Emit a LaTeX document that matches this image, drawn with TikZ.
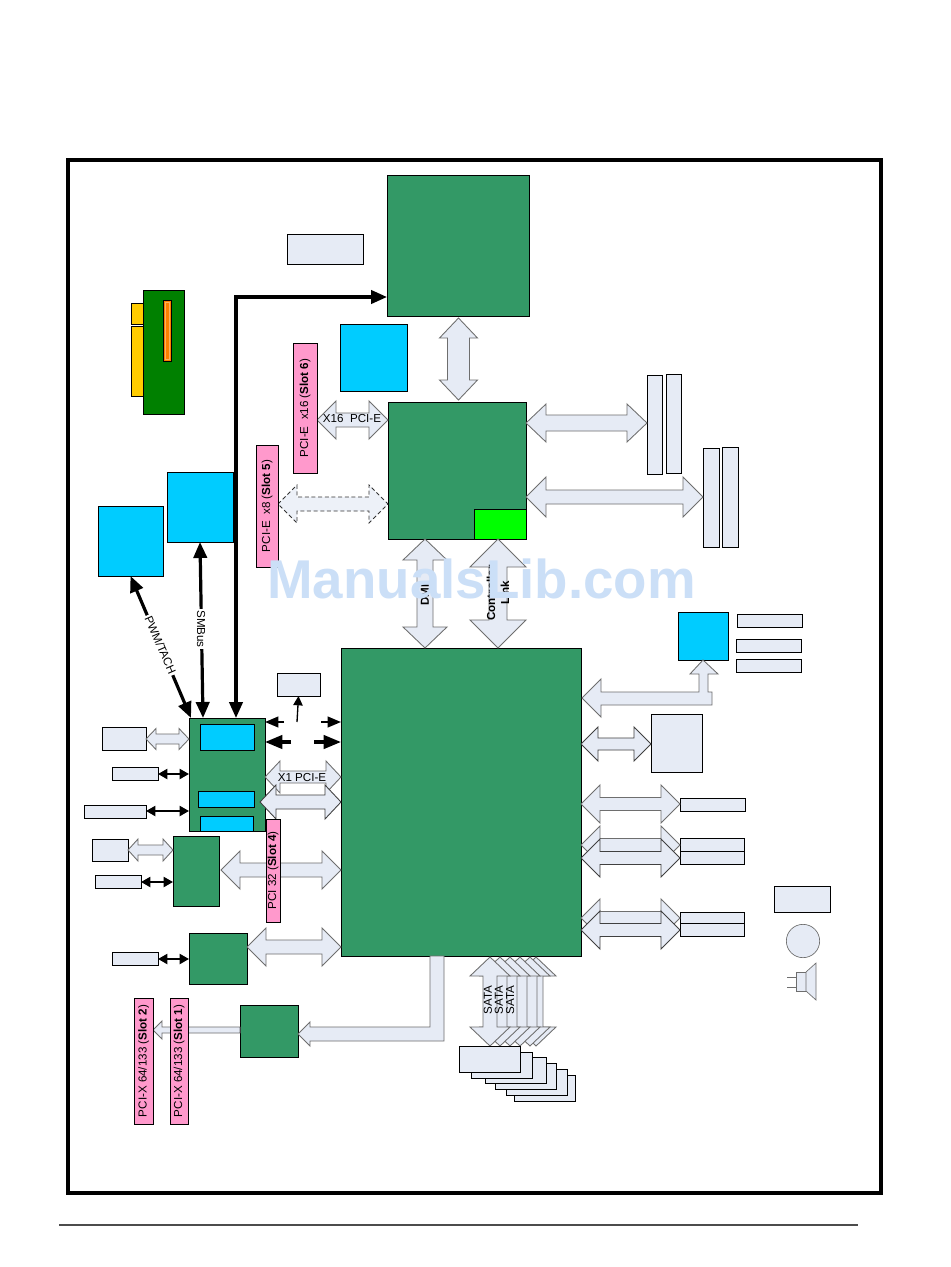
\documentclass[tikz,border=0pt]{standalone}
\usepackage{fontspec}
\setmainfont{Liberation Sans}
\usetikzlibrary{arrows.meta,calc}
\pgfdeclarelayer{arr}
\pgfdeclarelayer{over}
\pgfsetlayers{main,arr,over}
\definecolor{gr}{HTML}{339966}
\definecolor{dgr}{HTML}{008000}
\definecolor{cy}{HTML}{00CCFF}
\definecolor{lb}{HTML}{E6EBF5}
\definecolor{pk}{HTML}{FF99CC}
\definecolor{ye}{HTML}{FFCC00}
\definecolor{org}{HTML}{FF8000}
\definecolor{lorg}{HTML}{FFB060}
\definecolor{lm}{HTML}{00FF00}
\definecolor{wm}{HTML}{CBDFF7}
\definecolor{ag}{HTML}{6E6E6E}
\newcommand\tf{\fontsize{8.7}{10}\selectfont}
\tikzset{
 base/.style={draw=black,line width=.65pt,inner sep=0pt,outer sep=0pt},
 gbox/.style={base,fill=gr},
 cbox/.style={base,fill=cy},
 lbox/.style={base,fill=lb},
 pbox/.style={base,fill=pk,font=\tf},
 ba/.style={draw=ag,fill=lb,line width=.65pt,line join=miter},
 bad/.style={draw=black!75,fill=lb,line width=.65pt},
 bdash/.style={draw=black!80,fill=lb!70,line width=.55pt,densely dashed},
 thin2/.style={{Triangle[length=7pt,width=7.5pt]}-{Triangle[length=7pt,width=7.5pt]},line width=1.5pt,black},
 stubl/.style={-{Triangle[length=10pt,width=8pt]},line width=1.5pt,black},
 stubh/.style={-{Triangle[length=13pt,width=10pt]},line width=2.4pt,black},
 big/.style={{Triangle[length=12pt,width=10pt]}-{Triangle[length=12pt,width=10pt]},line width=2.4pt,black},
 lbl/.style={font=\tf,inner sep=0pt,outer sep=0pt},
 lblb/.style={font=\tf\bfseries,inner sep=0pt,outer sep=0pt},
}
\newcommand\bx[7]{\node[#2,minimum width={(#5-#3)*.75pt},minimum height={(#6-#4)*.75pt}] (#1) at ({(#3+#5)/2},{(#4+#6)/2}) {#7};}
\newcommand\bxr[7]{\node[#2,rotate=90,minimum width={(#6-#4)*.75pt},minimum height={(#5-#3)*.75pt}] (#1) at ({(#3+#5)/2},{(#4+#6)/2}) {#7};}
% horizontal double block arrow: style, left end, right end, yc, head half, shaft half, head length
\newcommand\HA[7]{\path[#1] let \p1=(#2),\p2=(#3) in
 (\x1,#4) -- ({\x1+#7*.75pt},{#4-#5}) -- ({\x1+#7*.75pt},{#4-#6}) -- ({\x2-#7*.75pt},{#4-#6}) -- ({\x2-#7*.75pt},{#4-#5}) -- (\x2,#4)
 -- ({\x2-#7*.75pt},{#4+#5}) -- ({\x2-#7*.75pt},{#4+#6}) -- ({\x1+#7*.75pt},{#4+#6}) -- ({\x1+#7*.75pt},{#4+#5}) -- cycle;}
% vertical double block arrow: style, top end, bottom end, xc, head half, shaft half, head length
\newcommand\VA[7]{\path[#1] let \p1=(#2),\p2=(#3) in
 (#4,\y1) -- ({#4-#5},{\y1-#7*.75pt}) -- ({#4-#6},{\y1-#7*.75pt}) -- ({#4-#6},{\y2+#7*.75pt}) -- ({#4-#5},{\y2+#7*.75pt}) -- (#4,\y2)
 -- ({#4+#5},{\y2+#7*.75pt}) -- ({#4+#6},{\y2+#7*.75pt}) -- ({#4+#6},{\y1-#7*.75pt}) -- ({#4+#5},{\y1-#7*.75pt}) -- cycle;}
\begin{document}
\begin{tikzpicture}[x=.75pt,y=-.75pt]
\useasboundingbox (0,0) rectangle (950,1267);
\fill[white] (0,0) rectangle (950,1267);
% frame and foot rule
\bx{frame}{base,line width=2.6pt}{68}{160}{881}{1193}{}
\coordinate (rl) at (59,1225);
\coordinate (rr) at (858,1225);
\draw[line width=1pt,black!70] (rl) -- (rr);
% main blocks
\bx{cpu}{gbox}{387}{175}{529}{316}{}
\bx{note}{lbox}{287}{234}{363}{264}{}
\bx{vrm}{cbox}{340}{324}{407}{391}{}
\bx{mch}{gbox}{388}{402}{526}{539}{}
\bx{lime}{base,fill=lm}{474}{509}{526}{539}{}
\bx{ich}{gbox}{341}{648}{581}{956}{}
\bx{m1}{lbox}{647}{375}{662}{474}{}
\bx{m2}{lbox}{666}{374}{681}{473}{}
\bx{m3}{lbox}{703}{448}{719}{547}{}
\bx{m4}{lbox}{722}{447}{738}{547}{}
% riser card
\bx{ya}{base,fill=ye,line width=.4pt}{131}{303}{143}{324}{}
\bx{yb}{base,fill=ye,line width=.4pt}{131}{326}{143}{396}{}
\bx{card}{base,fill=dgr}{143}{290}{184}{414}{}
\bx{orng}{base,fill=org,line width=.5pt}{163}{300}{171}{361}{}
\bx{orni}{draw=lorg,fill=org,line width=.5pt,inner sep=0pt,outer sep=0pt}{165}{302}{169}{359}{}
% fans
\bx{fana}{cbox}{167}{472}{233}{542}{}
\bx{fanb}{cbox}{98}{506}{163}{576}{}
% south-west group
\bx{sio}{gbox}{189}{718}{265}{831}{}
\bx{sioa}{cbox}{200}{724}{254}{750}{}
\bx{siob}{cbox}{198}{791}{254}{807}{}
\bx{sioc}{cbox}{200}{816}{253}{831}{}
\bx{small}{lbox}{277}{673}{320}{696}{}
\bx{la}{lbox}{102}{727}{146}{750}{}
\bx{lc}{lbox}{112}{767}{158}{780}{}
\bx{ld}{lbox}{84}{805}{146}{818}{}
\bx{le}{lbox}{92}{839}{128}{861}{}
\bx{lf}{lbox}{95}{875}{141}{888}{}
\bx{gna}{gbox}{173}{836}{219}{906}{}
\bx{gnb}{gbox}{189}{933}{247}{984}{}
\bx{lg}{lbox}{112}{952}{158}{965}{}
\bx{gnc}{gbox}{240}{1005}{298}{1057}{}
% right group
\bx{cyr}{cbox}{678}{612}{728}{660}{}
\bx{ra}{lbox}{737}{614}{802}{627}{}
\bx{rb}{lbox}{736}{639}{801}{652}{}
\bx{rc}{lbox}{736}{659}{801}{672}{}
\bx{rd}{lbox}{651}{714}{702}{772}{}
\bx{re}{lbox}{680}{798}{745}{811}{}
\bx{rf}{lbox}{680}{838}{744}{851}{}
\bx{rg}{lbox}{680}{851}{744}{864}{}
\bx{rh}{lbox}{680}{912}{744}{923}{}
\bx{ri}{lbox}{680}{923}{744}{936}{}
\bx{rj}{lbox}{774}{886}{830}{912}{}
\node[draw=ag,fill=lb,line width=.5pt,circle,minimum size=25pt,inner sep=0pt] (circ) at (803,941) {};
% speaker
\bx{spk}{draw=ag,fill=lb,line width=.5pt,inner sep=0pt,outer sep=0pt}{796}{972}{806}{991}{}
\coordinate (ca) at (816,963);
\coordinate (cb) at (816,1000);
\coordinate (pa) at (787,977);
\coordinate (pb) at (787,987);
\draw[draw=ag,fill=lb,line width=.5pt] (spk.north east) -- (ca) -- (cb) -- (spk.south east) -- cycle;
\draw[draw=ag,line width=.5pt] (pa) -- (pa -| spk.west) (pb) -- (pb -| spk.west);

\begin{pgfonlayer}{over}
\bxr{s6}{pbox}{293}{343}{317}{473}{PCI-E\ \ x16 (\textbf{Slot 6})}
\bxr{s5}{pbox}{256}{445}{278}{567}{PCI-E\ \ x8 (\textbf{Slot 5})}
\bxr{s4}{pbox}{266}{819}{280}{922}{PCI 32 (\textbf{Slot 4})}
\bxr{s2}{pbox}{134}{998}{153}{1124}{PCI-X 64/133 (\textbf{Slot 2})}
\bxr{s1}{pbox}{170}{998}{188}{1124}{PCI-X 64/133 (\textbf{Slot 1})}
% SATA drive stack
\bx{d6}{lbox}{514}{1075}{575}{1101}{}
\bx{d5}{lbox}{506}{1069}{567}{1095}{}
\bx{d4}{lbox}{495}{1063}{556}{1089}{}
\bx{d3}{lbox}{485}{1057}{546}{1083}{}
\bx{d2}{lbox}{471}{1052}{532}{1078}{}
\bx{d1}{lbox}{459}{1046}{520}{1072}{}
\end{pgfonlayer}

\begin{pgfonlayer}{arr}
% north bridge arrows
\VA{ba}{$(cpu.south)+(0,2)$}{$(mch.north)+(0,-2)$}{458.5}{19}{11}{20}
\HA{ba}{s6.south}{mch.west}{420}{19}{7}{19}
\HA{bdash}{s5.south}{mch.west}{504}{19}{7}{19}
\HA{ba}{mch.east}{m1.west}{423}{19}{8}{20}
\HA{ba}{mch.east}{m3.west}{497}{20}{7}{20}
\VA{ba}{mch.south}{ich.north}{425}{22}{8}{21}
\VA{ba}{lime.south}{ich.north}{498}{28}{9}{28}
% south bridge, right side
\path[ba] let \p1=(ich.east),\p2=(cyr.south) in
 ($(\x1,698)+(1,0)$) -- (601,679) -- (601,692) -- (699,692) -- (699,674) -- (690,674) -- (\x2,\y2) -- (718,674) -- (708,674) -- (708,692) -- (712,692) -- (712,705) -- (601,705) -- (601,717) -- cycle;
\HA{bad}{ich.east}{rd.west}{744}{17}{6}{17}
\HA{ba}{ich.east}{re.west}{804}{19}{6.5}{19}
\HA{ba}{ich.east}{rf.west}{845}{19}{6.5}{19}
\HA{bad}{ich.east}{rg.west}{858}{19}{6.5}{19}
\HA{ba}{ich.east}{rh.west}{918}{19}{6.5}{19}
\HA{bad}{ich.east}{ri.west}{930}{19}{6.5}{19}
% south bridge, left side
\HA{ba}{sio.east}{ich.west}{777}{16}{6}{15}
\HA{bad}{$(sio.east)+(-5,0)$}{ich.west}{802}{17}{7}{16}
\HA{ba}{$(gna.east)+(2,0)$}{ich.west}{870}{19}{7}{19}
\HA{ba}{gnb.east}{ich.west}{947}{19}{7}{19}
\HA{ba}{la.east}{sio.west}{739}{10.5}{5}{10}
\HA{ba}{le.east}{gna.west}{850}{11}{5}{10}
% PCI-X
\path[ba] let \p1=(s2.south),\p2=(gnc.west) in
 (\x1,1030) -- (162,1021) -- (162,1027) -- (\x2,1027) -- (\x2,1033) -- (162,1033) -- (162,1039) -- cycle;
\path[ba] let \p1=(gnc.east),\p2=(ich.south) in
 (\x1,1034) -- (310,1022) -- (310,1027) -- (430,1027) -- (430,\y2) -- (444,\y2) -- (444,1041) -- (310,1041) -- (310,1046) -- cycle;
% SATA
\foreach \c in {536,530,520,510,500,490}{
 \VA{ba}{$(ich.south)+(0,1)$}{d1.north}{\c}{20}{7}{19}
}
% signal arrows
\draw[thin2] (lc.east |- 0,774) -- (sio.west |- 0,774);
\draw[thin2] (ld.east |- 0,811) -- (sio.west |- 0,811);
\draw[thin2] (lf.east |- 0,882) -- (gna.west |- 0,882);
\draw[thin2] (lg.east |- 0,959) -- (gnb.west |- 0,959);
\coordinate (sa) at (284,722);
\coordinate (sb) at (321,722);
\coordinate (sc) at (291,742);
\coordinate (sd) at (314,742);
\coordinate (se) at (297,722);
\draw[stubl] (sa) -- (sio.east |- sa);
\draw[stubl] (sb) -- (ich.west |- sb);
\draw[stubh] (sc) -- (sio.east |- sc);
\draw[stubh] (sd) -- (ich.west |- sd);
\draw[-{Triangle[length=7pt,width=7pt]},line width=1pt] (se) -- (small.south);
\draw[big] (fana.south) -- (203,0 |- sio.north);
\draw[big] (fanb.south) -- (191,0 |- sio.north);
\draw[big,line join=miter] (236,0 |- sio.north) |- (cpu.west |- 0,297);
\end{pgfonlayer}

\begin{pgfonlayer}{over}
\node[lbl] (t16) at (352,419) {X16\ \ PCI-E};
\node[lbl] (tx1) at (302,777) {X1 PCI-E};
\node[lbl,fill=white,rotate=-90,inner sep=1pt] (tsm) at (201,629) {SMBus};
\node[lbl,fill=white,rotate=-66.6,inner sep=1pt] (tpw) at (160.5,645) {PWM/TACH};
\node[lblb,rotate=90] (tdm) at (425,595) {DMI};
\node[lblb,rotate=90] (tcl) at (491,593) {Controller};
\node[lblb,rotate=90] (tln) at (505,593) {Link};
\node[lbl,rotate=90] (ts1) at (488,1000) {SATA};
\node[lbl,rotate=90] (ts2) at (499,1000) {SATA};
\node[lbl,rotate=90] (ts3) at (510,1000) {SATA};
\node[anchor=base,inner sep=0pt,text=wm,font=\fontsize{41}{41}\selectfont\bfseries] (wmk) at (481.5,598) {ManualsLib.com};
\end{pgfonlayer}
\end{tikzpicture}
\end{document}
